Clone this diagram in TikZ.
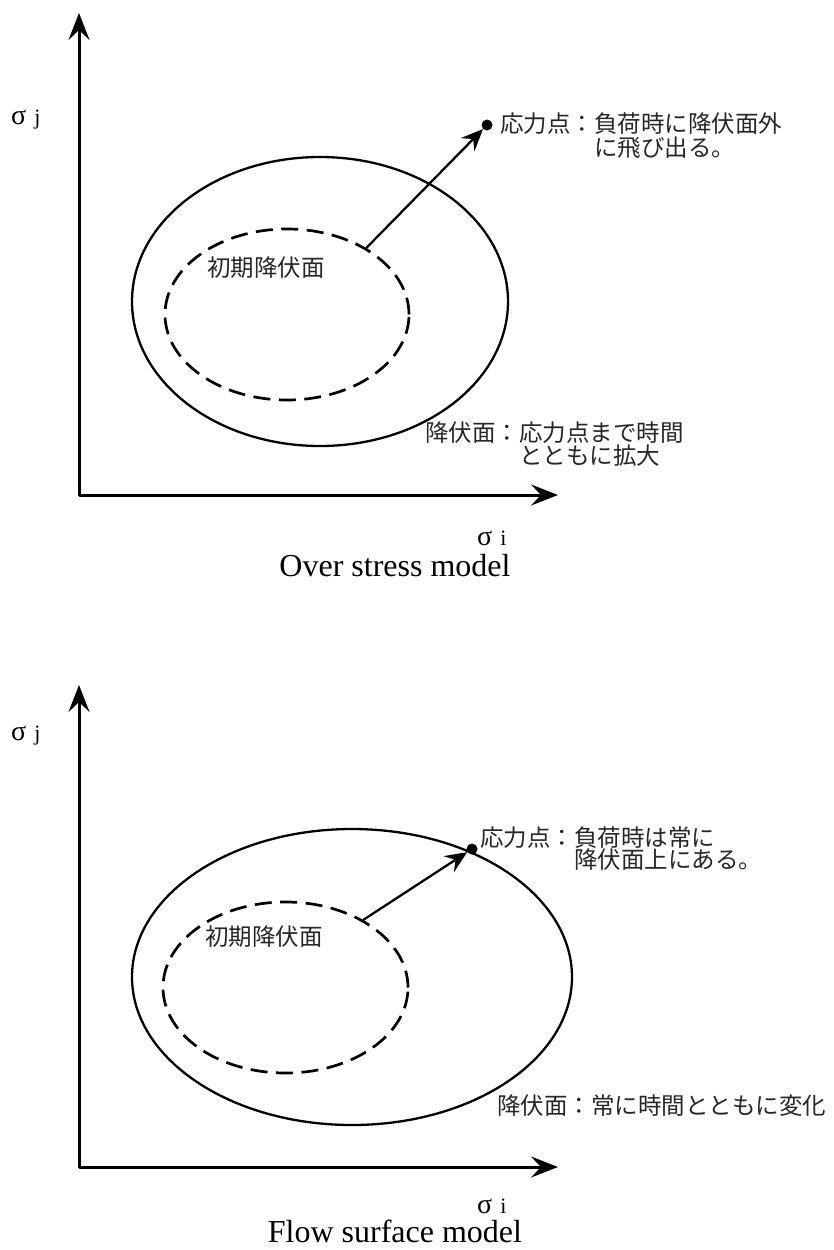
\documentclass[tikz,border=0pt]{standalone}
\usepackage{fontspec}
\setmainfont{Liberation Serif}
\newfontfamily\jpfont{Noto Sans CJK JP}
\usetikzlibrary{arrows.meta,shapes.geometric}

\newcommand{\sigmasym}{{\fontsize{28}{30}\selectfont σ}}

\begin{document}
\begin{tikzpicture}[x=1pt,y=-1pt,
  axes/.style={line width=3pt, line join=round,
    {Stealth[length=27pt,width=21pt,inset=10pt]}-{Stealth[length=27pt,width=21pt,inset=10pt]}},
  yieldsurf/.style={draw, ellipse, line width=2.3pt, inner sep=0pt},
  initsurf/.style={draw, ellipse, line width=2.7pt, inner sep=0pt,
    dash pattern=on 17pt off 8.5pt},
  loadpath/.style={line width=2.3pt, -{Stealth[length=22pt,width=19pt,inset=8pt]}},
  stresspt/.style={circle, fill=black, minimum size=11pt, inner sep=0pt},
  jlabel/.style={font=\jpfont\fontsize{23.5}{24}\selectfont, text=black!85,
    inner sep=0pt, anchor=base west},
  sigmalabel/.style={font=\fontsize{22}{26}\selectfont, inner sep=0pt, anchor=base west},
  caption/.style={font=\fontsize{32}{36}\selectfont, inner sep=0pt, anchor=base}
]
\useasboundingbox (0,0) rectangle (833,1250);

% ---------- Over stress model ----------
\coordinate (ytipA) at (79,13);
\coordinate (originA) at (79,495);
\coordinate (xtipA) at (558,495);
\draw[axes] (ytipA) -- (originA) -- (xtipA);
\node[sigmalabel] (sjA) at (11,124) {\sigmasym\hspace{8pt}j};
\node[sigmalabel] (siA) at (477,545) {\sigmasym\hspace{8pt}i};
\node[caption] (capA) at (395,576) {Over stress model};

\node[yieldsurf, minimum width=376pt, minimum height=289pt] (yieldA) at (320,301.5) {};
\node[initsurf, minimum width=244pt, minimum height=171pt] (initA) at (287,314.5) {};
\node[stresspt] (ptA) at (487,125) {};
\draw[loadpath] (initA.40) -- (ptA);

\node[jlabel] (ptlabelA1) at (500,132) {応力点：負荷時に降伏面外};
\node[jlabel] (ptlabelA2) at (594,156) {に飛び出る。};
\node[jlabel] (initlabelA) at (207,276) {初期降伏面};
\node[jlabel] (ylabelA1) at (425,441) {降伏面：応力点まで時間};
\node[jlabel] (ylabelA2) at (519,464) {とともに拡大};

% ---------- Flow surface model ----------
\coordinate (ytipB) at (79,685);
\coordinate (originB) at (79,1167);
\coordinate (xtipB) at (558,1167);
\draw[axes] (ytipB) -- (originB) -- (xtipB);
\node[sigmalabel] (sjB) at (11,740) {\sigmasym\hspace{8pt}j};
\node[sigmalabel] (siB) at (477,1213) {\sigmasym\hspace{8pt}i};
\node[caption] (capB) at (395,1242) {Flow surface model};

\node[yieldsurf, minimum width=440pt, minimum height=296pt] (yieldB) at (352,977) {};
\node[initsurf, minimum width=245pt, minimum height=171pt] (initB) at (285.5,987.5) {};
\node[stresspt] (ptB) at (472,849) {};
\draw[loadpath] (initB.41) -- (ptB);

\node[jlabel] (ptlabelB1) at (480,846) {応力点：負荷時は常に};
\node[jlabel] (ptlabelB2) at (574,868) {降伏面上にある。};
\node[jlabel] (initlabelB) at (205,945) {初期降伏面};
\node[jlabel] (ylabelB) at (497,1114) {降伏面：常に時間とともに変化};
\end{tikzpicture}
\end{document}
